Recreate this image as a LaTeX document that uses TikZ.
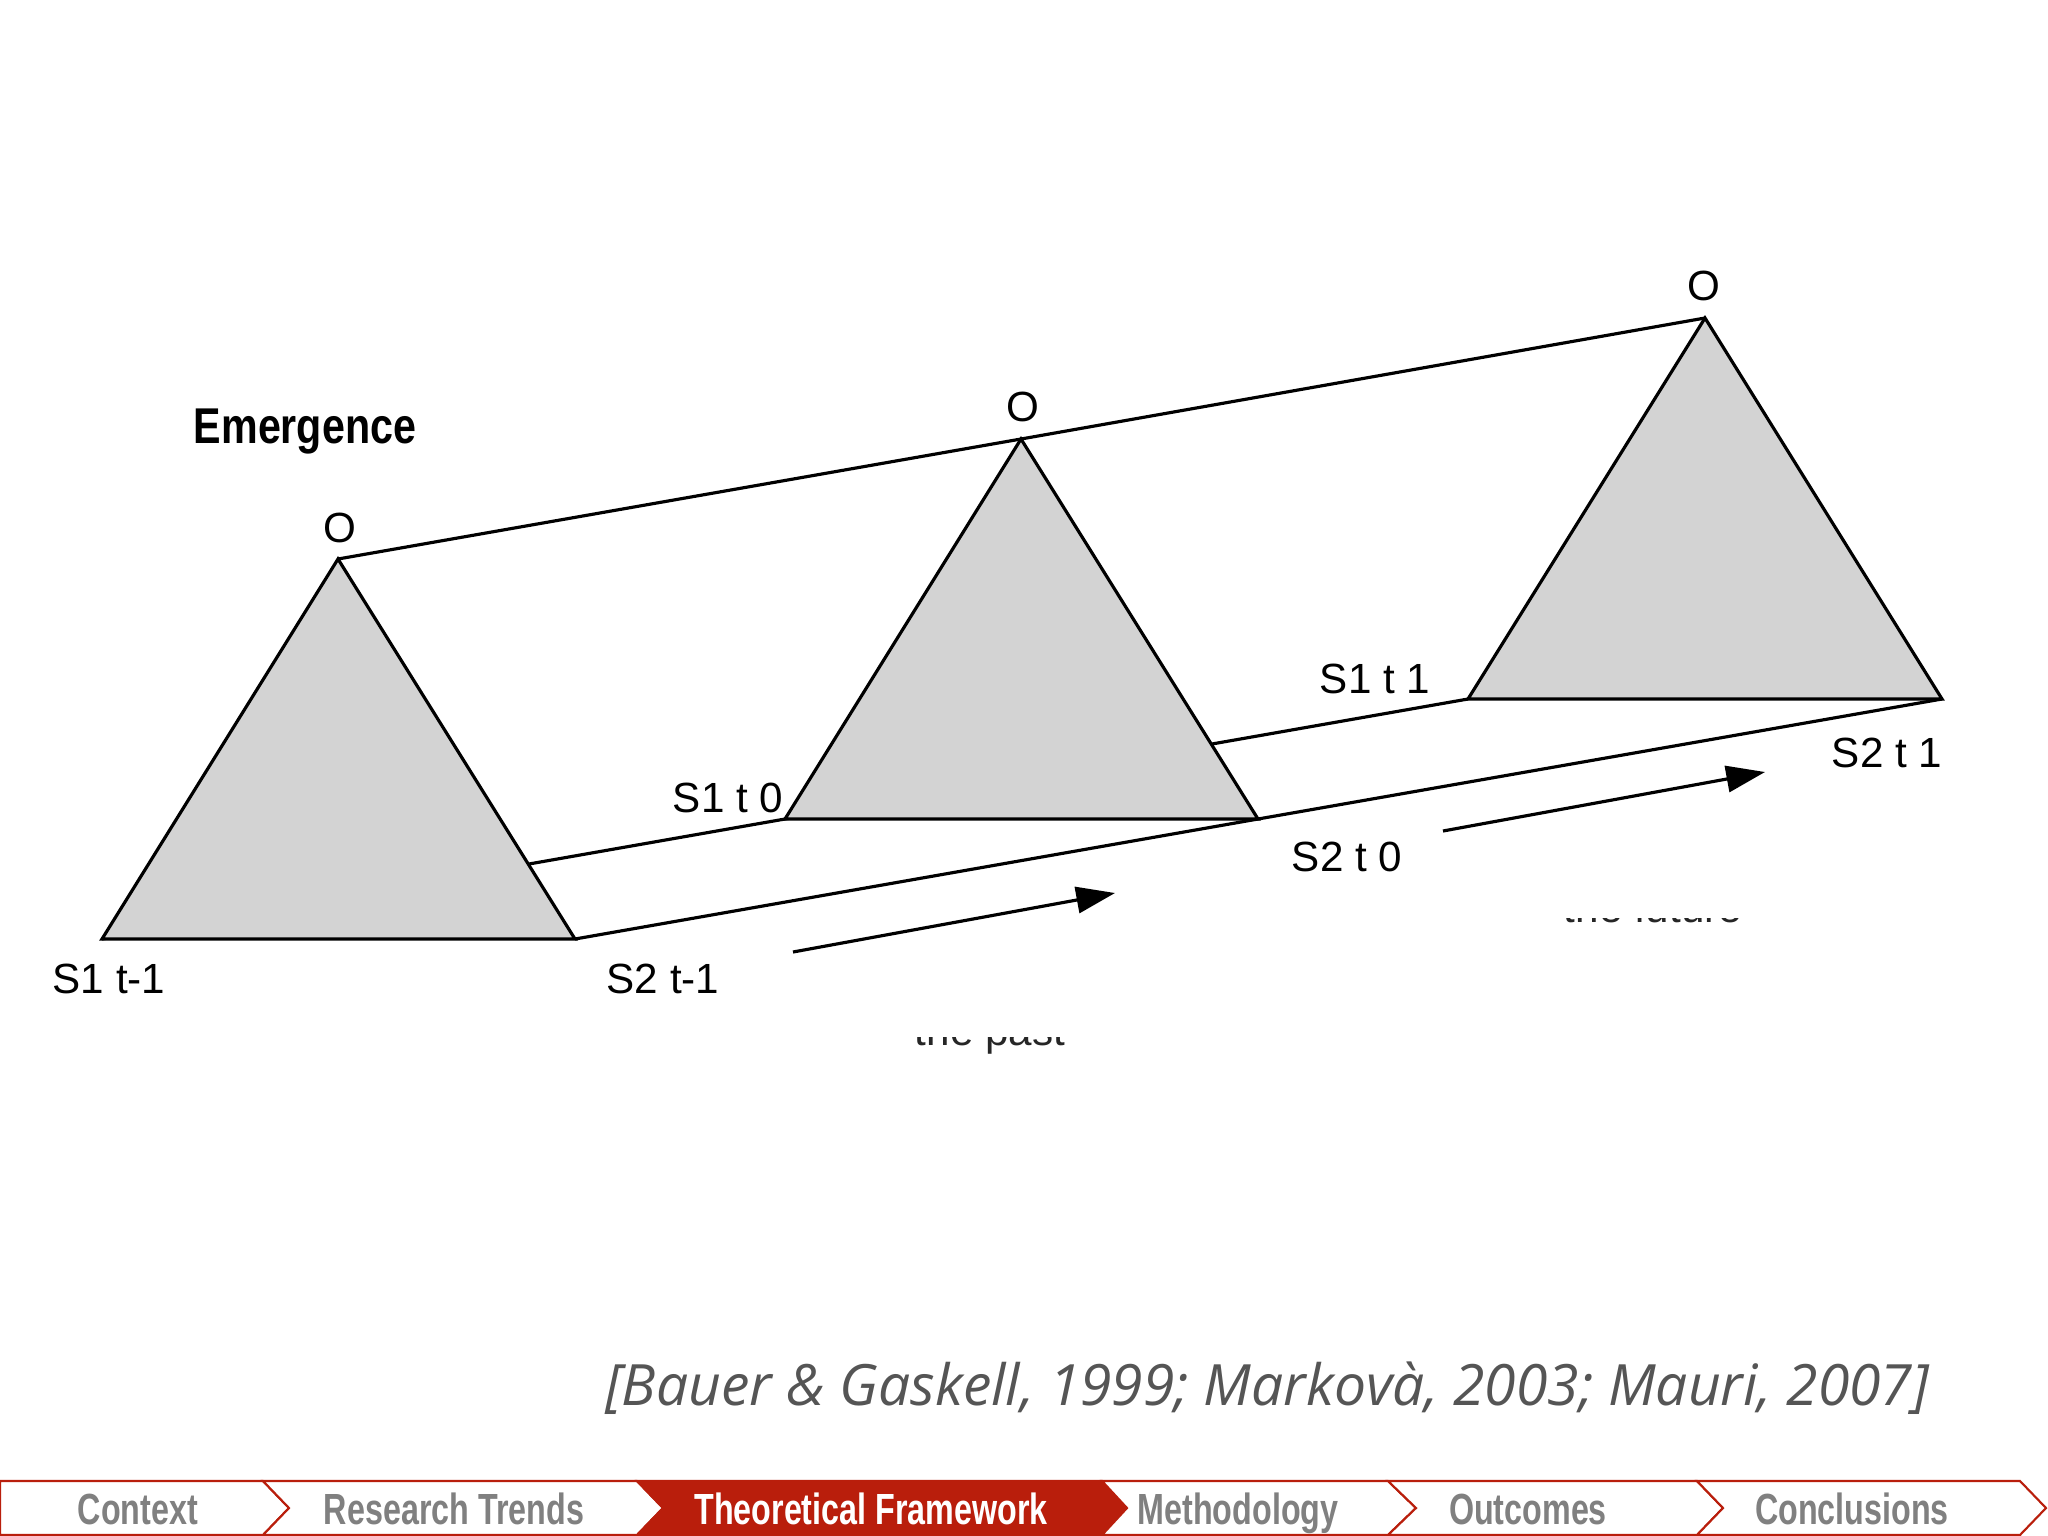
\documentclass[tikz,border=0pt]{standalone}
\usepackage{fontspec}
\usetikzlibrary{arrows.meta}
\newfontfamily\arialfont{Liberation Sans}
\newfontfamily\condfont[FakeStretch=0.82]{Liberation Sans}
\newfontfamily\navfont[FakeStretch=0.74]{Liberation Sans}
\newfontfamily\handfont{Open Sans}
\definecolor{navred}{RGB}{185,30,12}
\definecolor{navgray}{RGB}{128,128,128}
\definecolor{trigray}{RGB}{211,211,211}
\definecolor{citegray}{RGB}{85,85,85}
\tikzset{
  lbl/.style={font=\arialfont\fontsize{12}{14}\selectfont, inner sep=0pt},
  edge/.style={line width=0.9pt, black},
  tri/.style={line width=0.9pt, draw=black, fill=trigray, line join=miter},
  flow/.style={line width=0.9pt, -{Triangle[length=11pt,width=7.5pt]}},
  navseg/.style={draw=navred, line width=0.6pt, fill=white},
  navcur/.style={draw=navred, line width=0.6pt, fill=navred},
  navtxt/.style={font=\navfont\bfseries\fontsize{12.4}{14}\selectfont, text=navgray, inner sep=0pt, anchor=base},
  navtxtcur/.style={font=\navfont\bfseries\fontsize{12.4}{14}\selectfont, text=white, inner sep=0pt, anchor=base},
}
\begin{document}
\begin{tikzpicture}[x=0.01cm,y=-0.01cm]
\useasboundingbox[fill=white] (0,0) rectangle (2048,1536);

% vertices
\coordinate (A1) at (338,559);  \coordinate (L1) at (102,939);  \coordinate (R1) at (575,939);
\coordinate (A2) at (1021,439); \coordinate (L2) at (785,819);  \coordinate (R2) at (1258,819);
\coordinate (A3) at (1705,318); \coordinate (L3) at (1468,699); \coordinate (R3) at (1942,699);

% connecting edges
\draw[edge] (L1) -- (L2) -- (L3);
\draw[edge] (A1) -- (A2) -- (A3);
\draw[edge] (R1) -- (R2) -- (R3);

% triangles
\draw[tri] (A1) -- (L1) -- (R1) -- cycle;
\draw[tri] (A2) -- (L2) -- (R2) -- cycle;
\draw[tri] (A3) -- (L3) -- (R3) -- cycle;

% labels
\node[lbl] (o1) at (340,528) {O};
\node[lbl] (o2) at (1023,407) {O};
\node[lbl] (o3) at (1704,286) {O};
\node[lbl] (s1m) at (109,979) {S1 t-1};
\node[lbl] (s2m) at (663,979) {S2 t-1};
\node[lbl] (s1z) at (728,798) {S1 t 0};
\node[lbl] (s2z) at (1347,857) {S2 t 0};
\node[lbl] (s1o) at (1375,679) {S1 t 1};
\node[lbl] (s2o) at (1887,753) {S2 t 1};

\node[font=\condfont\bfseries\fontsize{14.3}{16}\selectfont, inner sep=0pt, anchor=base] (em) at (305,443) {Emergence};

% time arrows
\coordinate (p1) at (793,952);  \coordinate (p2) at (1115,893);
\coordinate (f1) at (1443,831); \coordinate (f2) at (1765,772);
\draw[flow] (p1) -- (p2);
\draw[flow] (f1) -- (f2);

% cut-off texts
\begin{scope}
  \clip (880,1037) rectangle (1100,1070);
  \node[lbl, anchor=base, text=black!85] (past) at (990,1045) {the past};
\end{scope}
\begin{scope}
  \clip (1540,918) rectangle (1770,935);
  \node[lbl, anchor=base, text=black!85] (future) at (1653,922) {the future};
\end{scope}

% citation
\node[font=\handfont\itshape\fontsize{16.2}{18}\selectfont, text=citegray, inner sep=0pt] (cite) at (1267,1388) {[Bauer \& Gaskell, 1999; Markovà, 2003; Mauri, 2007]};

% navigation bar
\draw[navseg] (0,1481) -- (263,1481) -- (289,1508) -- (263,1535) -- (0,1535) -- cycle;
\draw[navseg] (263,1481) -- (637,1481) -- (663,1508) -- (637,1535) -- (263,1535) -- (289,1508) -- cycle;
\draw[navcur] (637,1481) -- (1102,1481) -- (1127,1508) -- (1102,1535) -- (637,1535) -- (663,1508) -- cycle;
\draw[navseg] (1102,1481) -- (1388,1481) -- (1416,1508) -- (1388,1535) -- (1102,1535) -- (1127,1508) -- cycle;
\draw[navseg] (1388,1481) -- (1697,1481) -- (1723,1508) -- (1697,1535) -- (1388,1535) -- (1416,1508) -- cycle;
\draw[navseg] (1697,1481) -- (2020,1481) -- (2046,1508) -- (2020,1535) -- (1697,1535) -- (1723,1508) -- cycle;

\node[navtxt] (n1) at (138,1524) {Context};
\node[navtxt] (n2) at (454,1524) {Research Trends};
\node[navtxtcur] (n3) at (871,1524) {Theoretical Framework};
\node[navtxt] (n4) at (1238,1524) {Methodology};
\node[navtxt] (n5) at (1528,1524) {Outcomes};
\node[navtxt] (n6) at (1852,1524) {Conclusions};
\end{tikzpicture}
\end{document}
